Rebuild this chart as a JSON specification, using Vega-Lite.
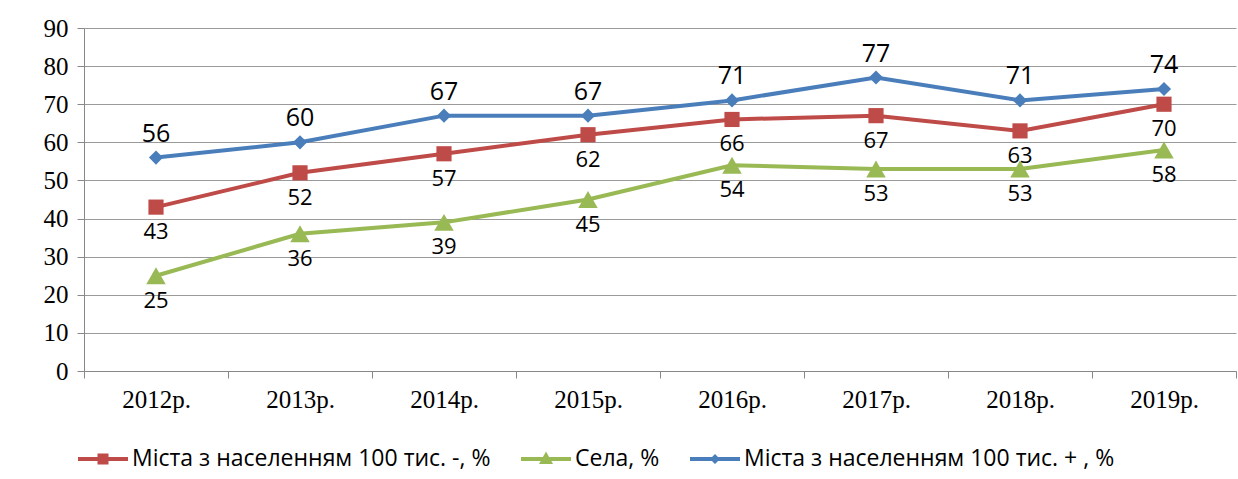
{
  "$schema": "https://vega.github.io/schema/vega-lite/v6.json",
  "autosize": {"type": "none"},
  "width": 1152,
  "height": 343,
  "padding": {"left": 84, "top": 28, "right": 2, "bottom": 108},
  "background": "white",
  "config": {"view": {"stroke": null}},
  "data": {"values": [
    {"year": "2012р.", "series": "Міста з населенням 100 тис. -, %", "value": 43},
    {"year": "2013р.", "series": "Міста з населенням 100 тис. -, %", "value": 52},
    {"year": "2014р.", "series": "Міста з населенням 100 тис. -, %", "value": 57},
    {"year": "2015р.", "series": "Міста з населенням 100 тис. -, %", "value": 62},
    {"year": "2016р.", "series": "Міста з населенням 100 тис. -, %", "value": 66},
    {"year": "2017р.", "series": "Міста з населенням 100 тис. -, %", "value": 67},
    {"year": "2018р.", "series": "Міста з населенням 100 тис. -, %", "value": 63},
    {"year": "2019р.", "series": "Міста з населенням 100 тис. -, %", "value": 70},
    {"year": "2012р.", "series": "Села, %", "value": 25},
    {"year": "2013р.", "series": "Села, %", "value": 36},
    {"year": "2014р.", "series": "Села, %", "value": 39},
    {"year": "2015р.", "series": "Села, %", "value": 45},
    {"year": "2016р.", "series": "Села, %", "value": 54},
    {"year": "2017р.", "series": "Села, %", "value": 53},
    {"year": "2018р.", "series": "Села, %", "value": 53},
    {"year": "2019р.", "series": "Села, %", "value": 58},
    {"year": "2012р.", "series": "Міста з населенням 100 тис. + , %", "value": 56},
    {"year": "2013р.", "series": "Міста з населенням 100 тис. + , %", "value": 60},
    {"year": "2014р.", "series": "Міста з населенням 100 тис. + , %", "value": 67},
    {"year": "2015р.", "series": "Міста з населенням 100 тис. + , %", "value": 67},
    {"year": "2016р.", "series": "Міста з населенням 100 тис. + , %", "value": 71},
    {"year": "2017р.", "series": "Міста з населенням 100 тис. + , %", "value": 77},
    {"year": "2018р.", "series": "Міста з населенням 100 тис. + , %", "value": 71},
    {"year": "2019р.", "series": "Міста з населенням 100 тис. + , %", "value": 74}
  ]},
  "encoding": {
    "x": {
      "field": "year", "type": "nominal", "title": null, "sort": null,
      "scale": {"paddingInner": 0, "paddingOuter": 0},
      "axis": {
        "labelAngle": 0, "labelFont": "Liberation Serif", "labelFontSize": 25, "labelColor": "#000",
        "labelPadding": 9, "tickBand": "extent", "tickSize": 7, "tickColor": "#888", "domainColor": "#888", "grid": false
      }
    },
    "y": {
      "field": "value", "type": "quantitative", "title": null,
      "scale": {"domain": [0, 90], "nice": false},
      "axis": {
        "values": [0, 10, 20, 30, 40, 50, 60, 70, 80, 90],
        "labelFont": "Liberation Serif", "labelFontSize": 25, "labelColor": "#000", "labelPadding": 9,
        "tickSize": 7, "tickColor": "#888", "domainColor": "#888", "gridColor": "#9a9a9a", "gridWidth": 1
      }
    },
    "color": {
      "field": "series", "type": "nominal", "title": null,
      "scale": {
        "domain": ["Міста з населенням 100 тис. -, %", "Села, %", "Міста з населенням 100 тис. + , %"],
        "range": ["#BE4B48", "#98B954", "#4A7EBB"]
      },
      "legend": {
        "orient": "none", "legendX": -6, "legendY": 406, "direction": "horizontal",
        "labelFont": "Open Sans", "labelFontSize": 23, "labelColor": "#000", "labelLimit": 0,
        "symbolSize": 2500, "columnPadding": 30, "labelOffset": 4, "symbolOpacity": 1, "symbolStrokeWidth": 0
      }
    }
  },
  "layer": [
    {"mark": {"type": "line", "strokeWidth": 4}},
    {
      "mark": {"type": "point", "filled": true, "opacity": 1, "size": 0},
      "encoding": {
        "shape": {
          "field": "series", "type": "nominal", "title": null,
          "scale": {
            "domain": ["Міста з населенням 100 тис. -, %", "Села, %", "Міста з населенням 100 тис. + , %"],
            "range": [
              "M-1,-0.08H1V0.08H-1Z M-0.22,-0.22H0.22V0.22H-0.22Z",
              "M-1,-0.08H1V0.08H-1Z M0,-0.3L0.28,0.2H-0.28Z",
              "M-1,-0.08H1V0.08H-1Z M0,-0.2L0.2,0L0,0.2L-0.2,0Z"
            ]
          }
        }
      }
    },
    {
      "transform": [{"filter": "datum.series === 'Міста з населенням 100 тис. -, %'"}],
      "mark": {"type": "point", "filled": true, "opacity": 1, "size": 230, "shape": "square"}
    },
    {
      "transform": [{"filter": "datum.series === 'Села, %'"}],
      "mark": {"type": "point", "filled": true, "opacity": 1, "size": 380, "shape": "triangle-up"}
    },
    {
      "transform": [{"filter": "datum.series === 'Міста з населенням 100 тис. + , %'"}],
      "mark": {"type": "point", "filled": true, "opacity": 1, "size": 200, "shape": "diamond"}
    },
    {
      "transform": [{"filter": "datum.series === 'Міста з населенням 100 тис. + , %'"}],
      "mark": {"type": "text", "dy": -24, "font": "Open Sans", "fontSize": 25, "color": "#000"},
      "encoding": {"text": {"field": "value", "type": "quantitative"}, "color": {"value": "#000"}}
    },
    {
      "transform": [{"filter": "datum.series !== 'Міста з населенням 100 тис. + , %'"}],
      "mark": {"type": "text", "dy": 25, "font": "Open Sans", "fontSize": 22, "color": "#000"},
      "encoding": {"text": {"field": "value", "type": "quantitative"}, "color": {"value": "#000"}}
    }
  ]
}
